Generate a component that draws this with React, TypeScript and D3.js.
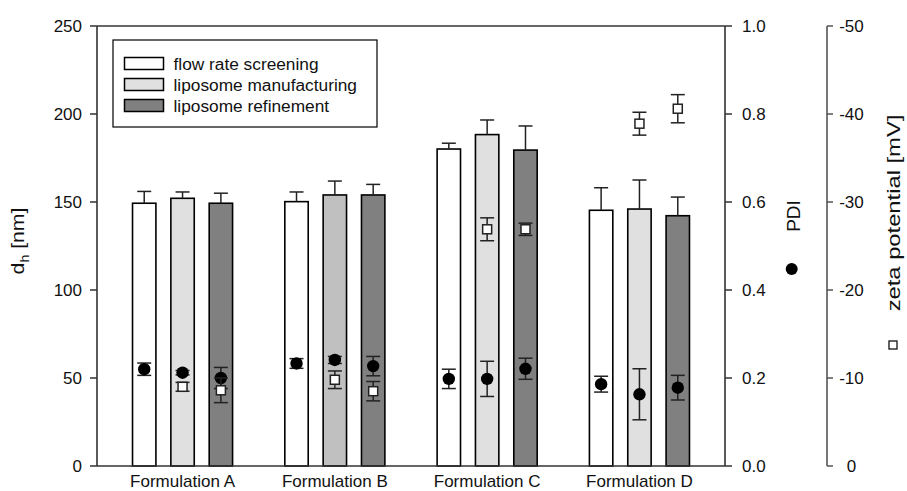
import React from "react";
import * as d3 from "d3";

const categories = ["Formulation A", "Formulation B", "Formulation C", "Formulation D"];
const series = ["flow rate screening", "liposome manufacturing", "liposome refinement"];

// hydrodynamic diameter [nm], per category, per series
const dhMean = [
  [149.3, 152.1, 149.3],
  [150.2, 154.0, 154.0],
  [180.1, 188.3, 179.5],
  [145.3, 146.0, 142.2],
];
const dhSd = [
  [6.7, 3.6, 5.7],
  [5.5, 7.9, 6.0],
  [3.3, 8.3, 13.7],
  [12.8, 16.5, 10.6],
];
// PDI
const pdiMean = [
  [0.22, 0.212, 0.2],
  [0.233, 0.241, 0.227],
  [0.198, 0.198, 0.221],
  [0.186, 0.163, 0.178],
];
const pdiSd = [
  [0.014, 0.005, 0.024],
  [0.011, 0.008, 0.022],
  [0.022, 0.04, 0.024],
  [0.018, 0.058, 0.028],
];
// zeta potential [mV]
const zetaMean = [
  [null, -9.0, -8.6],
  [null, -9.8, -8.5],
  [null, -26.9, -26.9],
  [null, -38.9, -40.6],
];
const zetaSd = [
  [null, 0.5, 1.4],
  [null, 1.0, 1.1],
  [null, 1.3, 0.7],
  [null, 1.3, 1.6],
];

const dhTicks = [0, 50, 100, 150, 200, 250];
const pdiTicks = [0, 0.2, 0.4, 0.6, 0.8, 1.0];
const zetaTicks = [0, -10, -20, -30, -40, -50];

const seriesFill = ["#ffffff", "#e0e0e0", "#808080"];
const fillOverride: Record<string, string> = {
  "Formulation B|liposome manufacturing": "#c0c0c0",
};

const FONT = "'Liberation Sans', Arial, Helvetica, sans-serif";

export default function App() {
  const W = 907;
  const H = 491;
  const left = 97;
  const right = 725;
  const top = 26;
  const bottom = 466;
  const zetaX = 827;

  const x = d3.scaleBand<string>().domain(categories).range([106.4, 715.6]).padding(0);
  const sub = d3
    .scaleBand<string>()
    .domain(series)
    .range([-57.5, 57.5])
    .paddingInner(0.39)
    .paddingOuter(0.195);
  const yDh = d3.scaleLinear().domain([0, 250]).range([bottom, top]);
  const yPdi = d3.scaleLinear().domain([0, 1]).range([bottom, top]);
  const yZeta = d3.scaleLinear().domain([0, -50]).range([bottom, top]);

  const axisColor = "#333";
  const errColor = "#222";
  const cap = 7;

  const bars: React.ReactNode[] = [];
  const barErr: React.ReactNode[] = [];
  const pdiPts: React.ReactNode[] = [];
  const zetaPts: React.ReactNode[] = [];

  categories.forEach((c, ci) => {
    const cx0 = (x(c) as number) + x.bandwidth() / 2;
    series.forEach((s, si) => {
      const bx = cx0 + (sub(s) as number);
      const bw = sub.bandwidth();
      const mx = bx + bw / 2;
      const v = dhMean[ci][si];
      const sd = dhSd[ci][si];
      const fill = fillOverride[`${c}|${s}`] ?? seriesFill[si];
      bars.push(
        <rect
          key={`b${ci}${si}`}
          x={bx}
          y={yDh(v)}
          width={bw}
          height={yDh(0) - yDh(v)}
          fill={fill}
          stroke="#000"
          strokeWidth={1.6}
        />
      );
      barErr.push(
        <g key={`be${ci}${si}`} stroke={errColor} strokeWidth={1.5}>
          <line x1={mx} x2={mx} y1={yDh(v)} y2={yDh(v + sd)} />
          <line x1={mx - cap} x2={mx + cap} y1={yDh(v + sd)} y2={yDh(v + sd)} />
        </g>
      );
      const p = pdiMean[ci][si];
      const psd = pdiSd[ci][si];
      pdiPts.push(
        <g key={`p${ci}${si}`}>
          <g stroke={errColor} strokeWidth={1.5}>
            <line x1={mx} x2={mx} y1={yPdi(p - psd)} y2={yPdi(p + psd)} />
            <line x1={mx - cap} x2={mx + cap} y1={yPdi(p + psd)} y2={yPdi(p + psd)} />
            <line x1={mx - cap} x2={mx + cap} y1={yPdi(p - psd)} y2={yPdi(p - psd)} />
          </g>
          <circle cx={mx} cy={yPdi(p)} r={6.2} fill="#000" />
        </g>
      );
      const z = zetaMean[ci][si];
      const zsd = zetaSd[ci][si];
      if (z !== null && zsd !== null) {
        const half = 4.5;
        zetaPts.push(
          <g key={`z${ci}${si}`}>
            <g stroke={errColor} strokeWidth={1.5}>
              <line x1={mx} x2={mx} y1={yZeta(z - zsd)} y2={yZeta(z + zsd)} />
              <line x1={mx - cap} x2={mx + cap} y1={yZeta(z + zsd)} y2={yZeta(z + zsd)} />
              <line x1={mx - cap} x2={mx + cap} y1={yZeta(z - zsd)} y2={yZeta(z - zsd)} />
            </g>
            <rect
              x={mx - half}
              y={yZeta(z) - half}
              width={half * 2}
              height={half * 2}
              fill="#fff"
              stroke="#222"
              strokeWidth={1.5}
            />
          </g>
        );
      }
    });
  });

  const legendRows = series.map((s, i) => {
    const yy = 57.5 + i * 21;
    return (
      <g key={`lg${i}`}>
        <rect x={124.5} y={yy} width={39} height={12} fill={seriesFill[i]} stroke="#000" strokeWidth={1.5} />
        <text x={173.5} y={yy + 12} fontSize={17.3} fontFamily={FONT} fill="#111">
          {s}
        </text>
      </g>
    );
  });

  return (
    <svg
      width={W}
      height={H}
      viewBox={`0 0 ${W} ${H}`}
      style={{ position: "absolute", left: 0, top: 0, background: "#fff" }}
    >
      <rect x={0} y={0} width={W} height={H} fill="#fff" />
      {bars}
      {barErr}
      {pdiPts}
      {zetaPts}

      {/* frame */}
      <g stroke={axisColor} strokeWidth={1.6} fill="none">
        <line x1={left} x2={right} y1={top} y2={top} />
        <line x1={left} x2={right} y1={bottom} y2={bottom} />
        <line x1={left} x2={left} y1={top} y2={bottom} />
        <line x1={right} x2={right} y1={top} y2={bottom} />
      </g>

      {/* left axis */}
      <g fontFamily={FONT} fontSize={17} fill="#111">
        {dhTicks.map((t) => (
          <g key={`dt${t}`}>
            <line x1={left - 7} x2={left} y1={yDh(t)} y2={yDh(t)} stroke={axisColor} strokeWidth={1.5} />
            <text x={82} y={yDh(t)} dy="0.36em" textAnchor="end">
              {t}
            </text>
          </g>
        ))}
      </g>

      {/* PDI axis */}
      <g fontFamily={FONT} fontSize={17} fill="#111">
        {pdiTicks.map((t) => (
          <g key={`pt${t}`}>
            <line x1={right} x2={right + 7} y1={yPdi(t)} y2={yPdi(t)} stroke={axisColor} strokeWidth={1.5} />
            <text x={742} y={yPdi(t)} dy="0.36em" textAnchor="start">
              {d3.format(".1f")(t)}
            </text>
          </g>
        ))}
      </g>

      {/* zeta axis */}
      <g fontFamily={FONT} fontSize={17} fill="#111">
        <line x1={zetaX} x2={zetaX} y1={top} y2={bottom} stroke="#555" strokeWidth={1.6} />
        {zetaTicks.map((t) => (
          <g key={`zt${t}`}>
            <line x1={zetaX} x2={zetaX + 6} y1={yZeta(t)} y2={yZeta(t)} stroke="#555" strokeWidth={1.5} />
            <text x={851.5} y={yZeta(t)} dy="0.36em" textAnchor="middle">
              {t === 0 ? "0" : String(t)}
            </text>
          </g>
        ))}
      </g>

      {/* category labels */}
      <g fontFamily={FONT} fontSize={17} fill="#111">
        {categories.map((c) => (
          <text key={c} x={(x(c) as number) + x.bandwidth() / 2} y={487} textAnchor="middle">
            {c}
          </text>
        ))}
      </g>

      {/* axis titles */}
      <text
        transform="translate(24,241) rotate(-90) scale(1.18,1)"
        textAnchor="middle"
        fontFamily={FONT}
        fontSize={18}
        fill="#111"
      >
        d<tspan dy={5} fontSize={12}>h</tspan>
        <tspan dy={-5}> [nm]</tspan>
      </text>
      <text
        transform="translate(800,216) rotate(-90)"
        textAnchor="middle"
        fontFamily={FONT}
        fontSize={19}
        fill="#111"
      >
        PDI
      </text>
      <circle cx={791.7} cy={269} r={6} fill="#000" />
      <text
        transform="translate(899.5,213) rotate(-90) scale(1.32,1)"
        textAnchor="middle"
        fontFamily={FONT}
        fontSize={18}
        fill="#111"
      >
        zeta potential [mV]
      </text>
      <rect x={889} y={341} width={8} height={8} fill="#fff" stroke="#222" strokeWidth={1.4} />

      {/* legend */}
      <rect x={113} y={40} width={264} height={87} fill="#fff" stroke="#000" strokeWidth={1.2} />
      {legendRows}
    </svg>
  );
}
